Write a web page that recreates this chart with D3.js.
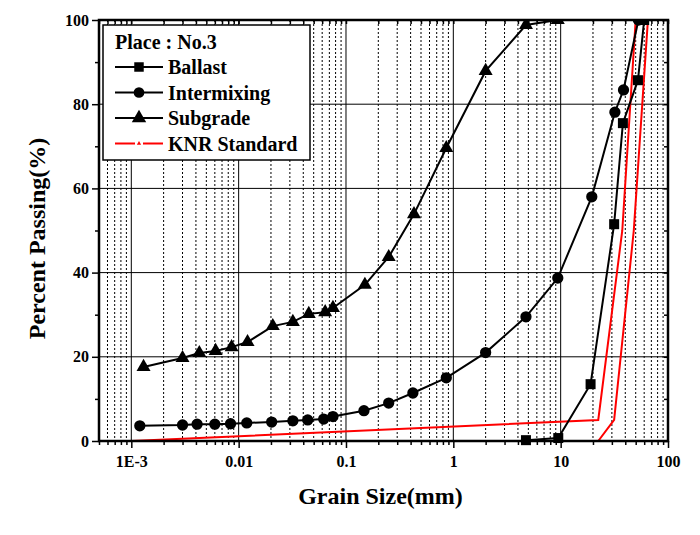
<!DOCTYPE html>
<html>
<head>
<meta charset="utf-8">
<script src="https://cdn.jsdelivr.net/npm/d3@7"></script>
<style>
  body { margin: 0; background: #fff; }
  text { font-family: "Liberation Serif", "Times New Roman", serif; font-weight: bold; }
</style>
</head>
<body>
<div id="root"></div>
<script>
// grain size (mm) / percent passing
const ballastSize = [4.75, 9.5, 19, 31.5, 38, 52.5, 60];
const ballastPass = [0.2, 0.7, 13.5, 51.5, 75.5, 85.7, 100];

const mixSize = [0.0012, 0.0030, 0.0041, 0.0060, 0.0084, 0.0119, 0.0203, 0.032, 0.044, 0.062, 0.0756, 0.147, 0.25, 0.42, 0.86, 2.0, 4.75, 9.4, 19.5, 32, 38.5, 53];
const mixPass = [3.6, 3.8, 4.0, 4.0, 4.1, 4.3, 4.5, 4.8, 5.0, 5.2, 5.8, 7.2, 9.0, 11.4, 15.0, 21.0, 29.5, 38.7, 58.0, 78.1, 83.4, 100];

const subSize = [0.0013, 0.0030, 0.0043, 0.0061, 0.0086, 0.0121, 0.0208, 0.032, 0.045, 0.064, 0.0756, 0.15, 0.25, 0.43, 0.86, 2.0, 4.75, 9.4];
const subPass = [17.6, 19.7, 20.9, 21.4, 22.3, 23.5, 27.3, 28.3, 30.2, 30.6, 31.6, 37.1, 43.7, 53.9, 69.6, 87.9, 98.8, 100];

// KNR standard envelope
const knrUpperSize = [0.001, 22.4, 37.5, 50];
const knrUpperPass = [0, 5, 50, 100];
const knrLowerSize = [22.4, 31.5, 48, 65];
const knrLowerPass = [0, 5, 50, 100];

const xTickValues = [0.001, 0.01, 0.1, 1, 10, 100];
const xTickLabels = ["1E-3", "0.01", "0.1", "1", "10", "100"];
const yTickValues = [0, 20, 40, 60, 80, 100];

const legendTitle = "Place : No.3";
const legendNames = ["Ballast", "Intermixing", "Subgrade", "KNR Standard"];

const outerWidth = 700;
const outerHeight = 535;
const margin = { top: 20, right: 32, bottom: 94, left: 99 };
const width = outerWidth - margin.left - margin.right;
const height = outerHeight - margin.top - margin.bottom;

const zip = (xs, ys) => xs.map((v, i) => [v, ys[i]]);

let svg = d3.select("#root").append("svg")
            .attr("width", outerWidth)
            .attr("height", outerHeight);

svg.append("defs").append("clipPath").attr("id", "plot-clip")
   .append("rect").attr("x", 0).attr("y", 0).attr("width", width).attr("height", height + 10);

let chart = svg.append("g")
               .attr("transform", `translate(${margin.left}, ${margin.top})`);

let scaleX = d3.scaleLog().domain([5e-4, 100]).range([0, width]);
let scaleY = d3.scaleLinear().domain([0, 100]).range([height, 0]);

let minorX = scaleX.ticks().filter(t => !xTickValues.some(m => Math.abs(m - t) / m < 1e-6));
let minorY = d3.range(10, 100, 20);

// grid
chart.append("g").selectAll("line").data(minorX).enter().append("line")
     .attr("x1", d => scaleX(d)).attr("x2", d => scaleX(d))
     .attr("y1", 0).attr("y2", height)
     .attr("stroke", "#000").attr("stroke-width", 1).attr("stroke-dasharray", "2,2");

chart.append("g").selectAll("line").data(xTickValues.slice(0, -1)).enter().append("line")
     .attr("x1", d => scaleX(d)).attr("x2", d => scaleX(d))
     .attr("y1", 0).attr("y2", height)
     .attr("stroke", "#000").attr("stroke-width", 1);

chart.append("g").selectAll("line").data(yTickValues.slice(1, -1)).enter().append("line")
     .attr("x1", 0).attr("x2", width)
     .attr("y1", d => scaleY(d)).attr("y2", d => scaleY(d))
     .attr("stroke", "#000").attr("stroke-width", 1);

// axes
let xAxis = d3.axisBottom(scaleX).tickValues(xTickValues)
              .tickFormat((d, i) => xTickLabels[i]).tickSize(7).tickPadding(8);
let xMinor = d3.axisBottom(scaleX).tickValues(minorX).tickFormat("").tickSize(4);
let xTop = d3.axisBottom(scaleX).tickValues(minorX.concat(xTickValues)).tickFormat("").tickSize(4);
let yAxis = d3.axisLeft(scaleY).tickValues(yTickValues).tickSize(7).tickPadding(3);
let yMinor = d3.axisLeft(scaleY).tickValues(minorY).tickFormat("").tickSize(4);
let yRight = d3.axisLeft(scaleY).tickValues(yTickValues.concat(minorY)).tickFormat("").tickSize(4);

function styleAxis(g) {
    g.select(".domain").remove();
    g.selectAll(".tick line").attr("stroke", "#000").attr("stroke-width", 1.5);
    g.selectAll(".tick text").attr("fill", "#000").style("font-size", "16px");
}

chart.append("g").attr("transform", `translate(0, ${height})`).call(xAxis).call(styleAxis);
chart.append("g").attr("transform", `translate(0, ${height})`).call(xMinor).call(styleAxis);
chart.append("g").call(xTop).call(styleAxis);
chart.append("g").call(yAxis).call(styleAxis);
chart.append("g").call(yMinor).call(styleAxis);
chart.append("g").attr("transform", `translate(${width}, 0)`).call(yRight).call(styleAxis);

// series
let line = d3.line().x(d => scaleX(d[0])).y(d => scaleY(d[1]));

const series = [
    { name: "Ballast", pts: zip(ballastSize, ballastPass), symbol: d3.symbolSquare, size: 100 },
    { name: "Intermixing", pts: zip(mixSize, mixPass), symbol: d3.symbolCircle, size: 100 },
    { name: "Subgrade", pts: zip(subSize, subPass), symbol: d3.symbolTriangle, size: 85 }
];

let plot = chart.append("g").attr("clip-path", "url(#plot-clip)");

[zip(knrUpperSize, knrUpperPass), zip(knrLowerSize, knrLowerPass)].forEach(pts => {
    plot.append("path").datum(pts).attr("d", line)
        .attr("fill", "none").attr("stroke", "#f00").attr("stroke-width", 2);
});

series.forEach(s => {
    plot.append("path").datum(s.pts).attr("d", line)
        .attr("fill", "none").attr("stroke", "#000").attr("stroke-width", 2);
    plot.append("g").selectAll("path").data(s.pts).enter().append("path")
        .attr("transform", d => `translate(${scaleX(d[0])}, ${scaleY(d[1])})`)
        .attr("d", d3.symbol().type(s.symbol).size(s.size))
        .attr("fill", "#000");
});

chart.append("rect")
     .attr("width", width).attr("height", height)
     .attr("fill", "none").attr("stroke", "#000").attr("stroke-width", 2.5);

// legend
let legend = svg.append("g").attr("transform", "translate(103, 25)");
legend.append("rect").attr("width", 207).attr("height", 135)
      .attr("fill", "#fff").attr("stroke", "#000").attr("stroke-width", 1.5);
legend.append("text").attr("x", 12).attr("y", 24).style("font-size", "20px").text(legendTitle);

const legendSymbols = [d3.symbolSquare, d3.symbolCircle, d3.symbolTriangle, d3.symbolTriangle];
legendNames.forEach((name, i) => {
    let yy = 42 + i * 25.5;
    let red = i === 3;
    legend.append("line").attr("x1", 12).attr("x2", 60).attr("y1", yy).attr("y2", yy)
          .attr("stroke", red ? "#f00" : "#000").attr("stroke-width", 2)
          .attr("stroke-dasharray", red ? "20,8" : null);
    legend.append("path").attr("transform", `translate(36, ${yy})`)
          .attr("d", d3.symbol().type(legendSymbols[i]).size(red ? 8 : 90))
          .attr("fill", red ? "#f00" : "#000");
    legend.append("text").attr("x", 65).attr("y", yy + 7).style("font-size", "20px").text(name);
});

// axis titles
svg.append("text")
   .attr("x", margin.left + width / 2 - 3).attr("y", 504)
   .attr("text-anchor", "middle").style("font-size", "24px")
   .text("Grain Size(mm)");

svg.append("text")
   .attr("transform", `translate(45, ${margin.top + height / 2 + 8}) rotate(-90)`)
   .attr("text-anchor", "middle").style("font-size", "24px")
   .text("Percent Passing(%)");
</script>
</body>
</html>
